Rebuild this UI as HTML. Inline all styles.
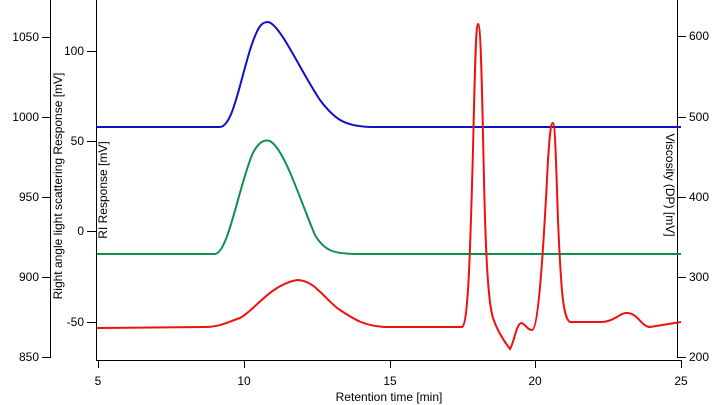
<!DOCTYPE html>
<html><head><meta charset="utf-8"><style>
body{margin:0;background:#fff}
svg{display:block;font-family:"Liberation Sans",Arial,sans-serif;font-size:12px;fill:#000}
</style></head><body>
<svg width="715" height="405" viewBox="0 0 715 405" xmlns="http://www.w3.org/2000/svg">
<g stroke="#000" stroke-width="1" fill="none">
<line x1="50.5" y1="0" x2="50.5" y2="358"/>
<line x1="96.5" y1="0" x2="96.5" y2="360"/>
<line x1="96" y1="360.5" x2="682" y2="360.5"/>
<line x1="677.5" y1="0" x2="677.5" y2="358"/>
<line x1="42" y1="37.5" x2="50" y2="37.5"/><line x1="42" y1="117.5" x2="50" y2="117.5"/><line x1="42" y1="197.5" x2="50" y2="197.5"/><line x1="42" y1="277.5" x2="50" y2="277.5"/><line x1="42" y1="357.5" x2="50" y2="357.5"/>
<line x1="87" y1="51.5" x2="96" y2="51.5"/><line x1="87" y1="141.5" x2="96" y2="141.5"/><line x1="87" y1="231.5" x2="96" y2="231.5"/><line x1="87" y1="322.5" x2="96" y2="322.5"/>
<line x1="677" y1="36.5" x2="686" y2="36.5"/><line x1="677" y1="117.5" x2="686" y2="117.5"/><line x1="677" y1="197.5" x2="686" y2="197.5"/><line x1="677" y1="277.5" x2="686" y2="277.5"/><line x1="677" y1="357.5" x2="686" y2="357.5"/>
<line x1="98.5" y1="360" x2="98.5" y2="368"/><line x1="244.5" y1="360" x2="244.5" y2="368"/><line x1="390.5" y1="360" x2="390.5" y2="368"/><line x1="535.5" y1="360" x2="535.5" y2="368"/><line x1="681.5" y1="360" x2="681.5" y2="368"/>
</g>
<g text-anchor="end">
<text x="39" y="41">1050</text><text x="39" y="121">1000</text><text x="39" y="201">950</text><text x="39" y="281">900</text><text x="39" y="361">850</text>
<text x="84" y="55">100</text><text x="84" y="145">50</text><text x="84" y="235">0</text><text x="84" y="326">-50</text>
</g>
<g text-anchor="start">
<text x="689" y="40">600</text><text x="689" y="121">500</text><text x="689" y="201">400</text><text x="689" y="281">300</text><text x="689" y="361">200</text>
</g>
<g text-anchor="middle">
<text x="98" y="385">5</text><text x="244" y="385">10</text><text x="390" y="385">15</text><text x="535" y="385">20</text><text x="681" y="385">25</text>
<text x="389" y="401">Retention time [min]</text>
<text transform="translate(62,186) rotate(-90)">Right angle light scattering Response [mV]</text>
<text transform="translate(107,190) rotate(-90)">RI Response [mV]</text>
<text transform="translate(666,185) rotate(90)">Viscosity (DP) [mV]</text>
</g>
<g fill="none" stroke-width="2">
<path stroke="#1010c8" d="M97 127 L220 127 C232 126 238 90 250 50 C258 25 262 22 268 22 C280 24 300 70 320 100 C335 120 345 126 370 127 L681 127"/>
<path stroke="#109050" d="M97 254 L215 254 C228 253 238 190 252 155 C258 142 264 139 270 141 C285 150 300 200 315 235 C325 252 335 254 360 254 L681 254"/>
<path stroke="#f01010" d="M97 328 L205 327 C220 327 228 322 240 318 C255 310 270 285 297 280 C315 280 325 300 340 310 C355 320 365 326 385 327 L462 327 C468 325 470 260 473 150 C475 60 476 25 478 24 C481 24 482 90 484 180 C486 270 489 305 493 318 C497 330 503 340 510 349 C514 343 516 325 521 323 C525 323 527 330 532 330 C538 330 543 260 548 160 C550 130 551 123 553 123 C555 123 556 160 558 220 C561 290 563 318 570 322 L600 322 C615 322 620 312 628 313 C638 314 642 327 650 327 L681 322"/>
</g>
</svg>
</body></html>
